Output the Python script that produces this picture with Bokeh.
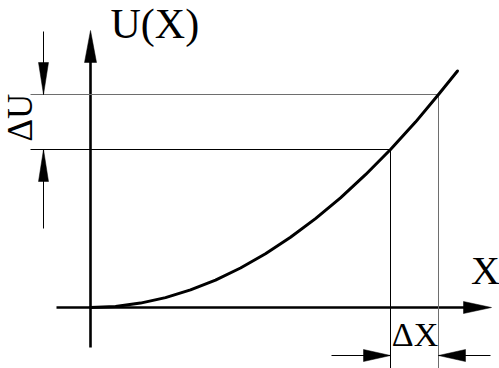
from bokeh.plotting import figure
from bokeh.models import Range1d
from bokeh.embed import file_html
from bokeh.resources import INLINE
from bokeh.core.properties import value

# Curve U(X), sampled along X (drawing units, origin at the axes' crossing)
curve_x = [0, 25, 50, 75, 100, 125, 150, 175, 200, 225, 250, 275, 300, 325, 348, 367]
curve_u = [0, 1.1, 4.4, 9.9, 17.6, 27.4, 39.5, 53.8, 70.2, 88.9, 109.7, 132.8, 158, 185.4, 213, 236.5]

# The two marked points on the curve
x_marks = [300, 348]
u_marks = [158, 213]

# Labels
title_label = "U(X)"
x_label = "X"
dx_label = "ΔX"
du_label = "ΔU"

FONT = "Liberation Serif"

p = figure(width=499, height=368, output_backend="svg", toolbar_location=None,
           x_range=Range1d(-90, 409), y_range=Range1d(-61, 307),
           x_axis_type=None, y_axis_type=None, min_border=0)
p.grid.visible = False
p.outline_line_color = None
p.background_fill_color = "white"
p.border_fill_color = "white"


def head(tx, ty, dx, dy, length, width):
    """Filled triangular arrow head with its tip at (tx, ty) pointing along (dx, dy)."""
    bx, by = tx - dx * length, ty - dy * length
    nx, ny = -dy * width / 2, dx * width / 2
    return [tx, bx + nx, bx - nx], [ty, by + ny, by - ny]


heads_x, heads_y = [], []

# Axes
x_tip, y_tip = 401, 277
p.line([-34, x_tip - 20], [0, 0], line_color="black", line_width=2.6)
p.line([0, 0], [-40, y_tip - 20], line_color="black", line_width=2.6)
hx, hy = head(x_tip, 0, 1, 0, 28, 12)
heads_x.append(hx); heads_y.append(hy)
hx, hy = head(0, y_tip, 0, 1, 32, 12)
heads_x.append(hx); heads_y.append(hy)

# Guide lines from the U axis to the curve and from the curve down past the X axis
x1, x2 = x_marks
u1, u2 = u_marks
dim_left = -60
bottom = -61
p.line([dim_left, x1], [u1, u1], line_color="black", line_width=1)
p.line([dim_left, x2], [u2, u2], line_color="#6e6e6e", line_width=1)
p.line([x1, x1], [u1, bottom], line_color="black", line_width=1)
p.line([x2, x2], [u2, bottom], line_color="#6e6e6e", line_width=1)

# ΔX dimension, arrows pointing inward from outside
dim_y = -48
p.line([241, x1], [dim_y, dim_y], line_color="black", line_width=1)
p.line([400, x2], [dim_y, dim_y], line_color="black", line_width=1)
hx, hy = head(x1, dim_y, 1, 0, 27, 12)
heads_x.append(hx); heads_y.append(hy)
hx, hy = head(x2, dim_y, -1, 0, 27, 12)
heads_x.append(hx); heads_y.append(hy)

# ΔU dimension, arrows pointing inward from outside
dim_x = -47
p.line([dim_x, dim_x], [276, u2], line_color="black", line_width=1)
p.line([dim_x, dim_x], [79, u1], line_color="black", line_width=1)
hx, hy = head(dim_x, u2, 0, -1, 32, 10)
heads_x.append(hx); heads_y.append(hy)
hx, hy = head(dim_x, u1, 0, 1, 32, 10)
heads_x.append(hx); heads_y.append(hy)

p.patches(heads_x, heads_y, fill_color="black", line_color="black", line_width=0.5)

# The curve itself
p.line(curve_x, curve_u, line_color="black", line_width=3, line_join="round", line_cap="round")

# Texts
p.text([20], [284], text=[title_label], text_font=value(FONT), text_font_size="42px",
       text_align="left", text_baseline="alphabetic", text_color="black")
p.text([395], [37], text=[x_label], text_font=value(FONT), text_font_size="40px",
       text_align="center", text_baseline="alphabetic", text_color="black")
p.text([324.5], [-27], text=[dx_label], text_font=value(FONT), text_font_size="34px",
       text_align="center", text_baseline="alphabetic", text_color="black")
p.text([-70], [190], text=[du_label], text_font=value(FONT), text_font_size="35px",
       text_align="center", text_baseline="alphabetic", text_color="black", angle=1.5708)

open("out.html", "w").write(file_html(p, INLINE))
